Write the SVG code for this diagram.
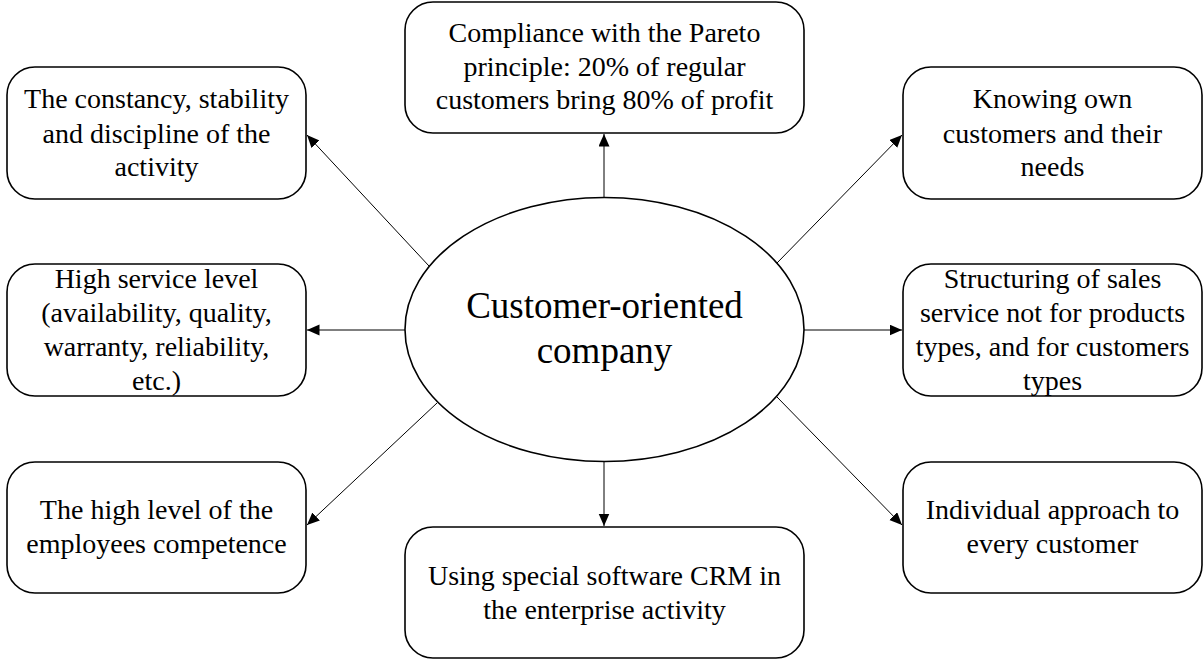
<svg xmlns="http://www.w3.org/2000/svg" width="1204" height="660" viewBox="0 0 1204 660">
  <style>
    .box { fill: #ffffff; stroke: #000000; stroke-width: 1.6; }
    .hub { fill: #ffffff; stroke: #000000; stroke-width: 1.6; }
    .lbl { font-family: "Liberation Serif", "Times New Roman", serif; font-size: 28px; fill: #000000; text-anchor: middle; }
    .hubl { font-family: "Liberation Serif", "Times New Roman", serif; font-size: 37px; fill: #000000; text-anchor: middle; }
    .link { stroke: #000000; stroke-width: 1; fill: none; marker-end: url(#arrow); }
  </style>
  <defs>
    <marker id="arrow" markerUnits="userSpaceOnUse" markerWidth="13" markerHeight="12" refX="12.5" refY="5.5" orient="auto">
      <path d="M0,0 L12.5,5.5 L0,11 Z" fill="#000000"/>
    </marker>
  </defs>
  <rect width="1204" height="660" fill="#ffffff"/>

  <!-- connectors from the central ellipse -->
  <g id="connectors">
    <line class="link" x1="604" y1="197" x2="604" y2="134"/>
    <line class="link" x1="604" y1="462" x2="604" y2="526"/>
    <line class="link" x1="405" y1="330" x2="307" y2="330"/>
    <line class="link" x1="804" y1="330" x2="902" y2="330"/>
    <line class="link" x1="429" y1="266" x2="307" y2="135"/>
    <line class="link" x1="777" y1="263" x2="902" y2="135"/>
    <line class="link" x1="437" y1="403" x2="307" y2="525"/>
    <line class="link" x1="777" y1="397" x2="902" y2="525"/>
  </g>

  <g id="hub">
    <ellipse class="hub" cx="604.5" cy="329.5" rx="199.5" ry="132"/>
    <text class="hubl" x="604.5" y="318">Customer-oriented</text>
    <text class="hubl" x="604.5" y="363">company</text>
  </g>

  <g id="pareto">
    <rect class="box" x="405" y="2" width="399" height="131" rx="28" ry="28"/>
    <text class="lbl" x="604.5" y="42">Compliance with the Pareto</text>
    <text class="lbl" x="604.5" y="75.5">principle: 20% of regular</text>
    <text class="lbl" x="604.5" y="109">customers bring 80% of profit</text>
  </g>

  <g id="constancy">
    <rect class="box" x="7" y="67" width="299" height="132" rx="28" ry="28"/>
    <text class="lbl" x="156.5" y="108">The constancy, stability</text>
    <text class="lbl" x="156.5" y="142.5">and discipline of the</text>
    <text class="lbl" x="156.5" y="176">activity</text>
  </g>

  <g id="knowing">
    <rect class="box" x="903" y="67" width="299" height="132" rx="28" ry="28"/>
    <text class="lbl" x="1052.5" y="108">Knowing own</text>
    <text class="lbl" x="1052.5" y="142.5">customers and their</text>
    <text class="lbl" x="1052.5" y="176">needs</text>
  </g>

  <g id="service">
    <rect class="box" x="7" y="264" width="299" height="132" rx="28" ry="28"/>
    <text class="lbl" x="156.5" y="287.5">High service level</text>
    <text class="lbl" x="156.5" y="321.5">(availability, quality,</text>
    <text class="lbl" x="156.5" y="355.5">warranty, reliability,</text>
    <text class="lbl" x="156.5" y="389.5">etc.)</text>
  </g>

  <g id="structuring">
    <rect class="box" x="903" y="264" width="299" height="132" rx="28" ry="28"/>
    <text class="lbl" x="1052.5" y="287.5">Structuring of sales</text>
    <text class="lbl" x="1052.5" y="321.5">service not for products</text>
    <text class="lbl" x="1052.5" y="355.5">types, and for customers</text>
    <text class="lbl" x="1052.5" y="389.5">types</text>
  </g>

  <g id="competence">
    <rect class="box" x="7" y="462" width="299" height="131" rx="28" ry="28"/>
    <text class="lbl" x="156.5" y="518.5">The high level of the</text>
    <text class="lbl" x="156.5" y="552.5">employees competence</text>
  </g>

  <g id="crm">
    <rect class="box" x="405" y="527" width="399" height="131" rx="28" ry="28"/>
    <text class="lbl" x="604.5" y="585">Using special software CRM in</text>
    <text class="lbl" x="604.5" y="618.5">the enterprise activity</text>
  </g>

  <g id="individual">
    <rect class="box" x="903" y="462" width="299" height="131" rx="28" ry="28"/>
    <text class="lbl" x="1052.5" y="518.5">Individual approach to</text>
    <text class="lbl" x="1052.5" y="552.5">every customer</text>
  </g>
</svg>
